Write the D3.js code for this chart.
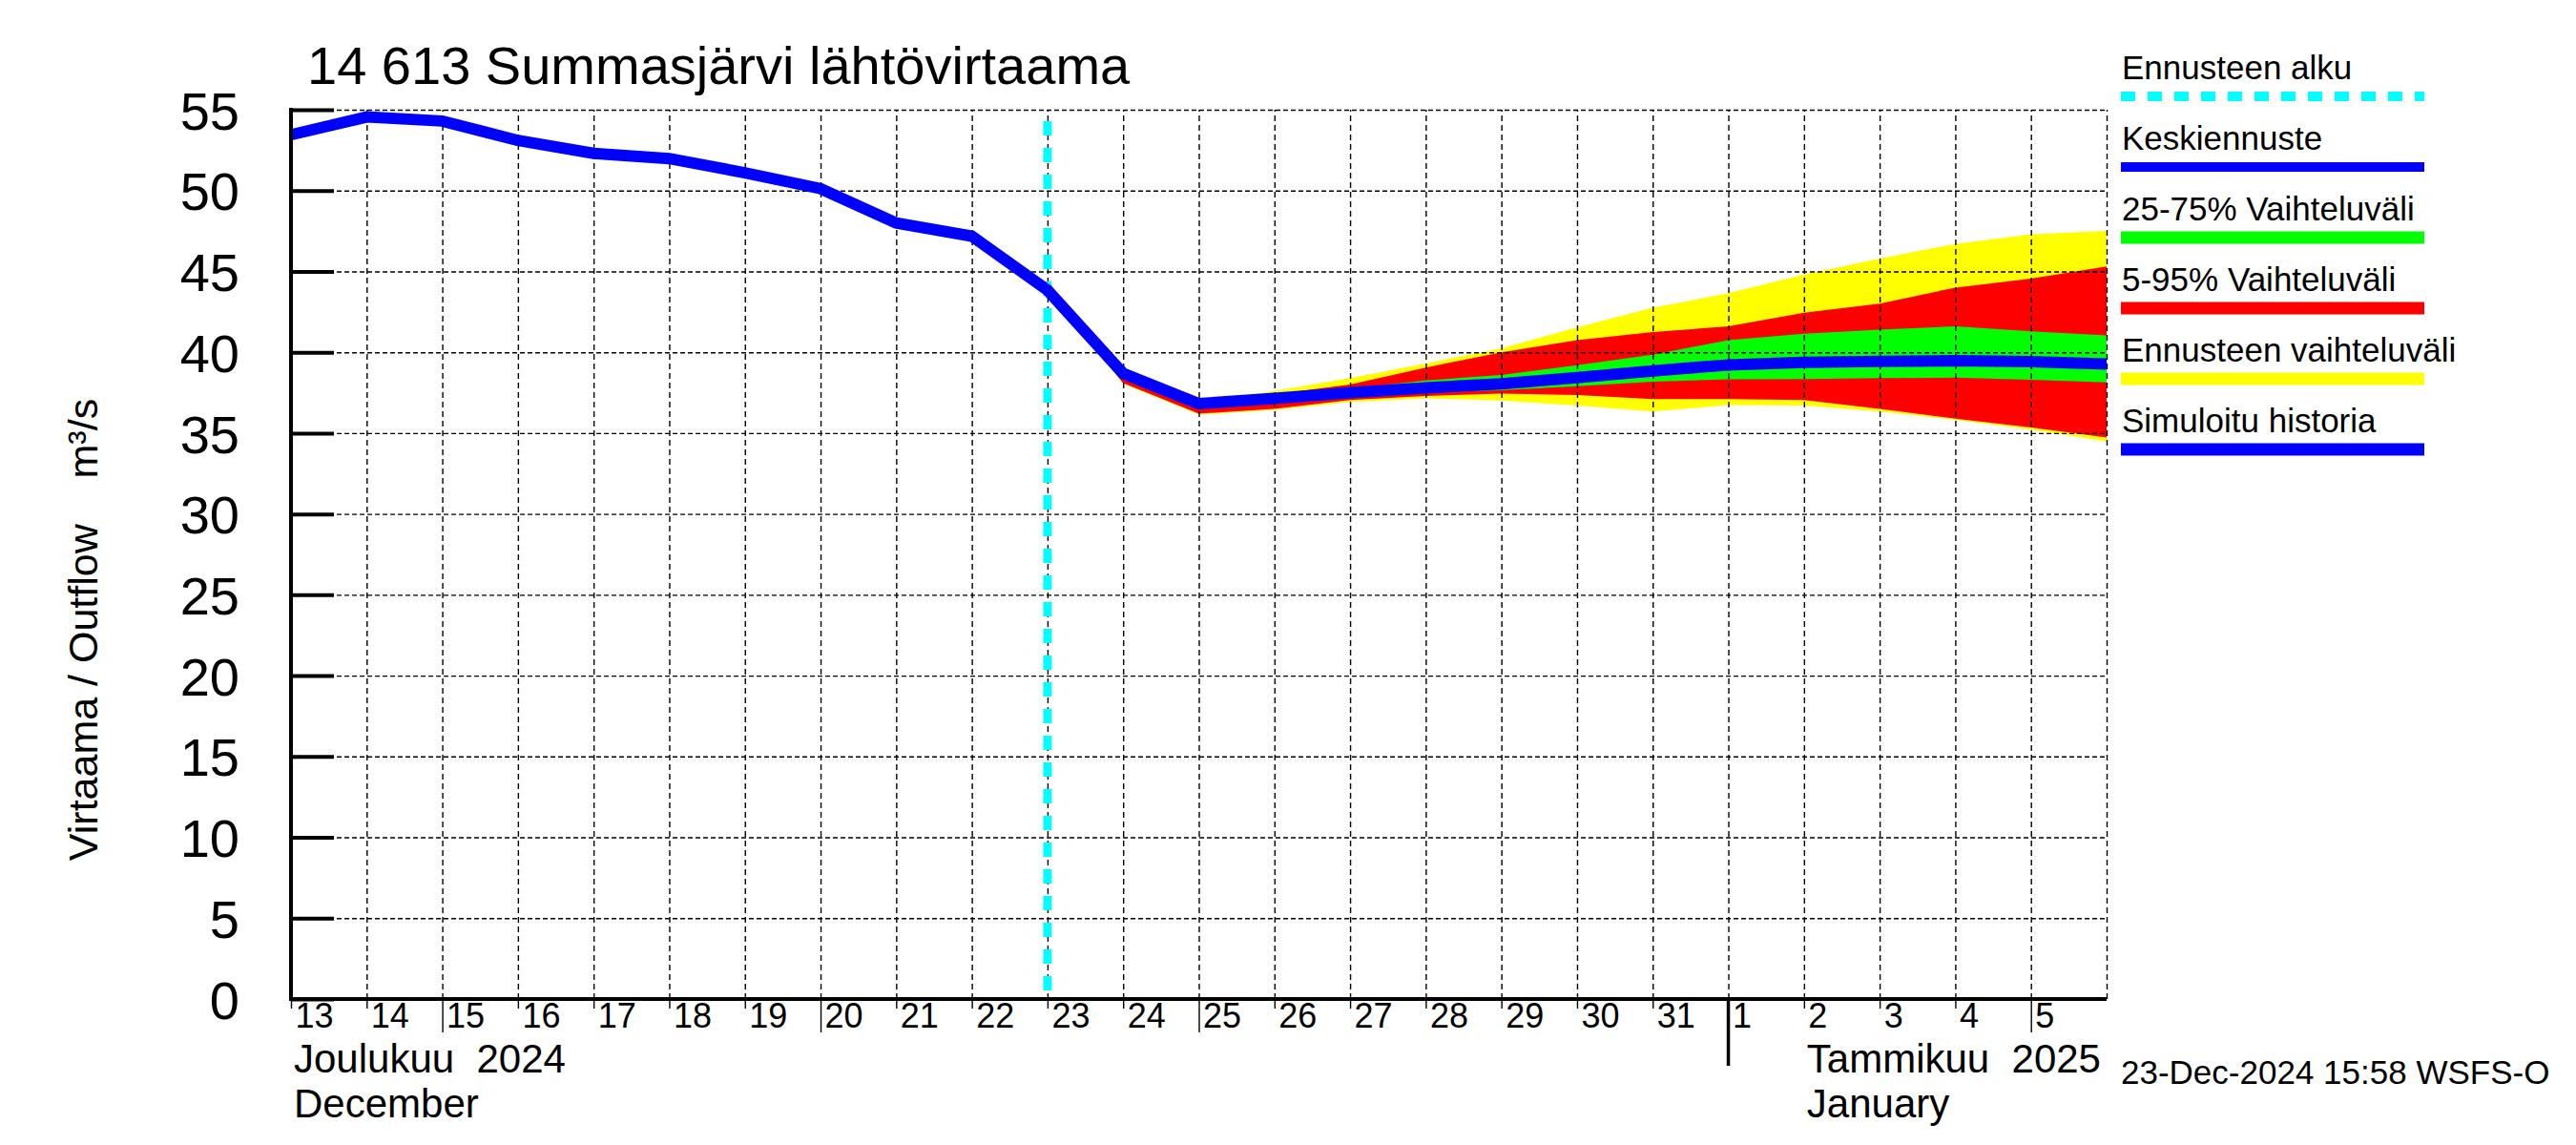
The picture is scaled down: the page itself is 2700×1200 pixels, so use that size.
<!DOCTYPE html>
<html>
<head>
<meta charset="utf-8">
<script src="https://cdn.jsdelivr.net/npm/d3@7"></script>
<style>
  body { margin: 0; background: #fff; }
  svg text { font-family: "Liberation Sans", Arial, Helvetica, sans-serif; fill: #000; }
</style>
</head>
<body>
<div id="chart"></div>
<script>
// simuloitu historia (m3/s), vuorokauden alussa
var histDates = ['2024-12-13', '2024-12-14', '2024-12-15', '2024-12-16', '2024-12-17', '2024-12-18',
                 '2024-12-19', '2024-12-20', '2024-12-21', '2024-12-22', '2024-12-23'];
var histFlow  = [53.45, 54.55, 54.3, 53.1, 52.3, 51.98, 51.1, 50.12, 48.0, 47.18, 43.84];

// ennuste
var fcDates = ['2024-12-23', '2024-12-24', '2024-12-25', '2024-12-26', '2024-12-27', '2024-12-28',
               '2024-12-29', '2024-12-30', '2024-12-31', '2025-01-01', '2025-01-02', '2025-01-03',
               '2025-01-04', '2025-01-05', '2025-01-06'];
var fcMean = [43.84, 38.69, 36.82, 37.15, 37.5, 37.8, 38.05, 38.43, 38.85, 39.22, 39.37, 39.43, 39.48, 39.42, 39.27];
var fcP75  = [43.84, 38.7, 36.85, 37.3, 37.75, 38.25, 38.6, 39.2, 39.85, 40.75, 41.15, 41.4, 41.6, 41.3, 41.05];
var fcP25  = [43.84, 38.68, 36.8, 37.1, 37.35, 37.5, 37.65, 37.9, 38.18, 38.33, 38.35, 38.4, 38.43, 38.3, 38.14];
var fcP95  = [43.84, 38.72, 36.9, 37.4, 38.0, 39.05, 40.0, 40.75, 41.25, 41.6, 42.45, 43.0, 44.0, 44.55, 45.3];
var fcP05  = [43.84, 38.1, 36.2, 36.5, 37.05, 37.3, 37.45, 37.35, 37.1, 37.1, 37.05, 36.5, 35.9, 35.35, 34.73];
var fcMax  = [43.84, 38.75, 36.95, 37.6, 38.4, 39.3, 40.25, 41.55, 42.75, 43.65, 44.8, 45.8, 46.7, 47.3, 47.5];
var fcMin  = [43.84, 38.05, 36.14, 36.43, 36.92, 37.15, 37.02, 36.7, 36.33, 36.73, 36.7, 36.33, 35.82, 35.22, 34.48];

var forecastStart = '2024-12-23';
var xStart = '2024-12-13';
var xEnd = '2025-01-06';
var yTicks = [0, 5, 10, 15, 20, 25, 30, 35, 40, 45, 50, 55];
var longTickDays = [5, 10, 15, 20, 25];

var titleText = '14 613 Summasjärvi lähtövirtaama';
var yLabel = 'Virtaama / Outflow    m³/s';
var monthLabels = [
    { date: '2024-12-13', fi: 'Joulukuu  2024', en: 'December' },
    { date: '2025-01-02', fi: 'Tammikuu  2025', en: 'January' }
];
var monthStarts = ['2025-01-01'];
var stampText = '23-Dec-2024 15:58 WSFS-O';

var legendLabels = ['Ennusteen alku', 'Keskiennuste', '25-75% Vaihteluväli', '5-95% Vaihteluväli',
                    'Ennusteen vaihteluväli', 'Simuloitu historia'];
var legendColors = ['#00ffff', '#0000ff', '#00ff00', '#ff0000', '#ffff00', '#0000ff'];

(function () {
    var W = 2700, H = 1200;
    var left = 305, right = 2208, top = 115, bottom = 1047;
    var parse = d3.utcParse('%Y-%m-%d');

    var svg = d3.select('#chart').append('svg')
        .attr('width', W).attr('height', H)
        .attr('viewBox', '0 0 ' + W + ' ' + H);
    svg.append('rect').attr('width', W).attr('height', H).attr('fill', '#fff');

    var x = d3.scaleUtc().domain([parse(xStart), parse(xEnd)]).range([left, right]);
    var y = d3.scaleLinear().domain([0, 55]).range([bottom, top]);

    var fc = fcDates.map(function (d, i) {
        return { date: parse(d), mean: fcMean[i], p25: fcP25[i], p75: fcP75[i],
                 p05: fcP05[i], p95: fcP95[i], min: fcMin[i], max: fcMax[i] };
    });
    var line = histDates.map(function (d, i) { return { date: parse(d), v: histFlow[i] }; })
        .concat(fc.slice(1).map(function (d) { return { date: d.date, v: d.mean }; }));

    // vaihteluvälit
    function band(lo, hi, color) {
        var area = d3.area()
            .x(function (d) { return x(d.date); })
            .y0(function (d) { return y(d[lo]); })
            .y1(function (d) { return y(d[hi]); });
        svg.append('path').datum(fc).attr('d', area).attr('fill', color);
    }
    band('min', 'max', '#ffff00');
    band('p05', 'p95', '#ff0000');
    band('p25', 'p75', '#00ff00');

    // ruudukko
    var days = d3.utcDay.range(parse(xStart), d3.utcDay.offset(parse(xEnd), 1));
    svg.append('g')
        .attr('transform', 'translate(' + left + ',0)')
        .call(d3.axisLeft(y).tickValues(yTicks.filter(function (t) { return t > 0; }))
            .tickSize(-(right - left)).tickFormat(''))
        .call(function (g) {
            g.select('.domain').remove();
            g.selectAll('line').attr('stroke', '#000').attr('stroke-width', 1.4)
                .attr('stroke-dasharray', '5,3');
        });
    svg.append('g')
        .attr('transform', 'translate(0,' + bottom + ')')
        .call(d3.axisBottom(x).tickValues(days.slice(1)).tickSize(-(bottom - top)).tickFormat(''))
        .call(function (g) {
            g.select('.domain').remove();
            g.selectAll('line').attr('stroke', '#000').attr('stroke-width', 1.4)
                .attr('stroke-dasharray', '6,4');
        });

    // ennusteen alku
    svg.append('line')
        .attr('x1', x(parse(forecastStart))).attr('x2', x(parse(forecastStart)))
        .attr('y1', top).attr('y2', bottom)
        .attr('stroke', '#00ffff').attr('stroke-width', 9)
        .attr('stroke-dasharray', '15,13').attr('stroke-dashoffset', 16);

    // keskiennuste + historia
    var path = d3.line()
        .x(function (d) { return x(d.date); })
        .y(function (d) { return y(d.v); });
    svg.append('path').datum(line).attr('d', path)
        .attr('fill', 'none').attr('stroke', '#0000ff').attr('stroke-width', 12);

    // y-akseli
    svg.append('g')
        .attr('transform', 'translate(' + left + ',0)')
        .call(d3.axisLeft(y).tickValues(yTicks).tickSize(0).tickPadding(54))
        .call(function (g) {
            g.select('.domain').remove();
            g.selectAll('text').attr('font-size', 56).attr('font-family', null)
                .attr('dy', '0.36em');
        });
    svg.append('g')
        .attr('transform', 'translate(' + left + ',0)')
        .call(d3.axisRight(y).tickValues(yTicks).tickSize(45).tickFormat(''))
        .call(function (g) {
            g.select('.domain').remove();
            g.selectAll('line').attr('stroke', '#000').attr('stroke-width', 4);
        });

    // x-akseli
    svg.append('g')
        .attr('transform', 'translate(0,' + bottom + ')')
        .call(d3.axisBottom(x).tickValues(days.slice(0, -1)).tickSize(10).tickPadding(0)
            .tickFormat(function (d) { return d.getUTCDate(); }))
        .call(function (g) {
            g.select('.domain').remove();
            g.selectAll('line').attr('stroke', '#000').attr('stroke-width', 1.4)
                .attr('y2', function (d) { return longTickDays.indexOf(d.getUTCDate()) >= 0 ? 35 : 10; });
            g.selectAll('text').attr('font-size', 36).attr('font-family', null)
                .attr('text-anchor', 'start').attr('x', 4).attr('y', 30).attr('dy', null);
        });

    monthStarts.forEach(function (m) {
        svg.append('line')
            .attr('x1', x(parse(m))).attr('x2', x(parse(m)))
            .attr('y1', bottom).attr('y2', bottom + 70)
            .attr('stroke', '#000').attr('stroke-width', 3.5);
    });

    svg.append('line').attr('x1', left).attr('x2', left).attr('y1', top - 2).attr('y2', bottom + 2)
        .attr('stroke', '#000').attr('stroke-width', 4);
    svg.append('line').attr('x1', left - 2).attr('x2', right).attr('y1', bottom).attr('y2', bottom)
        .attr('stroke', '#000').attr('stroke-width', 4);

    monthLabels.forEach(function (m) {
        var mx = x(parse(m.date)) + 3;
        svg.append('text').attr('x', mx).attr('y', 1124).attr('font-size', 42)
            .style('white-space', 'pre').text(m.fi);
        svg.append('text').attr('x', mx).attr('y', 1171).attr('font-size', 42).text(m.en);
    });

    // otsikot
    svg.append('text').attr('x', 322).attr('y', 88).attr('font-size', 56).text(titleText);
    svg.append('text')
        .attr('transform', 'translate(102,' + 660 + ') rotate(-90)')
        .attr('text-anchor', 'middle').attr('font-size', 43)
        .style('white-space', 'pre').text(yLabel);
    svg.append('text').attr('x', 2223).attr('y', 1136).attr('font-size', 35).text(stampText);

    // selite
    legendLabels.forEach(function (label, i) {
        var ty = 83 + i * 74;
        svg.append('text').attr('x', 2224).attr('y', ty).attr('font-size', 35).text(label);
        var ln = svg.append('line')
            .attr('x1', 2223).attr('x2', 2541)
            .attr('y1', ty + 18).attr('y2', ty + 18)
            .attr('stroke', legendColors[i])
            .attr('stroke-width', i < 2 ? 10 : 13);
        if (i === 0) ln.attr('stroke-dasharray', '15,13');
    });
})();
</script>
</body>
</html>
